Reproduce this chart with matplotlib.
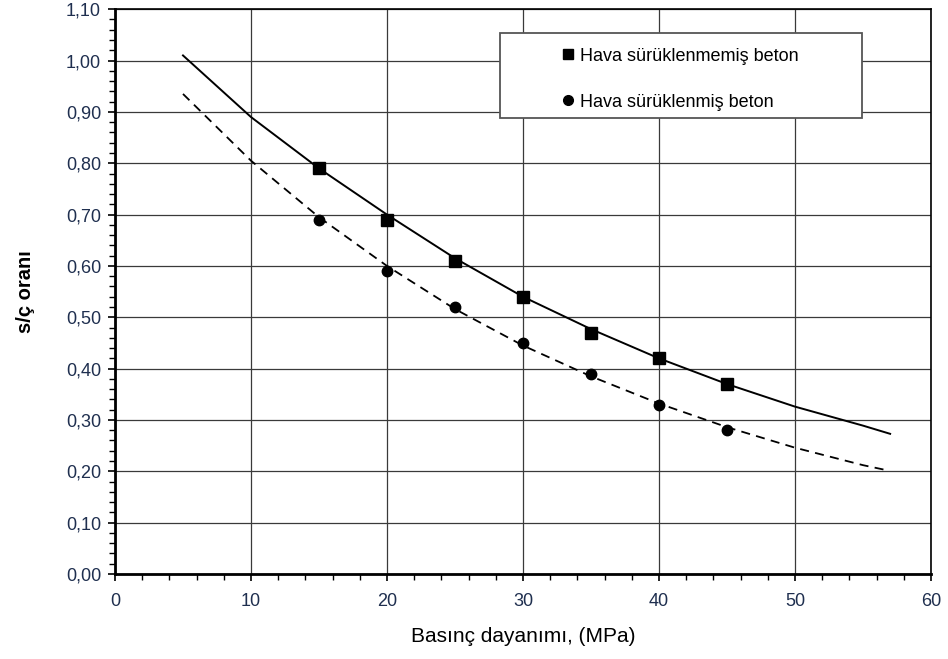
import matplotlib
matplotlib.use('Agg')
import matplotlib.pyplot as plt
from matplotlib.lines import Line2D
from matplotlib.patches import Rectangle
from matplotlib.ticker import MultipleLocator, FuncFormatter

# --- measured points ---
strength = [15, 20, 25, 30, 35, 40, 45]
ratio_plain = [0.79, 0.69, 0.61, 0.54, 0.47, 0.42, 0.37]
ratio_air = [0.69, 0.59, 0.52, 0.45, 0.39, 0.33, 0.28]

# --- trend curves ---
trend_x_plain = [5, 10, 15, 20, 25, 30, 35, 40, 45, 50, 55, 57]
trend_y_plain = [1.01, 0.89, 0.79, 0.70, 0.615, 0.54, 0.477, 0.42, 0.37, 0.326, 0.289, 0.273]
trend_x_air = [5, 10, 15, 20, 25, 30, 35, 40, 45, 50, 55, 56.6]
trend_y_air = [0.935, 0.805, 0.695, 0.60, 0.516, 0.445, 0.385, 0.332, 0.286, 0.246, 0.212, 0.203]

label_plain = 'Hava sürüklenmemiş beton'
label_air = 'Hava sürüklenmiş beton'

TICK_COL = '#1f2f4f'

plt.rcParams['font.family'] = ['Liberation Sans', 'DejaVu Sans']

fig = plt.figure(figsize=(9.48, 6.59), dpi=100)
ax = fig.add_axes([0.1213, 0.129, 0.8607, 0.857])

ax.plot(trend_x_plain, trend_y_plain, color='black', lw=1.4, zorder=3)
ax.plot(trend_x_air, trend_y_air, color='black', lw=1.3, ls=(0, (5, 3.5)), zorder=3)
ax.plot(strength, ratio_plain, ls='none', marker='s', ms=8, color='black', zorder=4)
ax.plot(strength, ratio_air, ls='none', marker='o', ms=7.5, color='black', zorder=4)

ax.set_xlim(0, 60)
ax.set_ylim(0, 1.10)
ax.xaxis.set_major_locator(MultipleLocator(10))
ax.xaxis.set_minor_locator(MultipleLocator(2))
ax.yaxis.set_major_locator(MultipleLocator(0.10))
ax.yaxis.set_minor_locator(MultipleLocator(0.02))
ax.yaxis.set_major_formatter(FuncFormatter(lambda v, p: f'{v:.2f}'.replace('.', ',')))

ax.grid(which='major', color='#3a3a3a', lw=0.9, zorder=1)
ax.tick_params(which='major', direction='out', length=5, width=1.2,
               labelsize=13, labelcolor=TICK_COL, pad=5)
ax.tick_params(axis='x', which='major', pad=9)
ax.tick_params(which='minor', direction='out', length=4, width=1.0)

for side in ['left', 'bottom']:
    ax.spines[side].set_linewidth(2.0)
for side in ['top', 'right']:
    ax.spines[side].set_linewidth(1.2)

ax.set_xlabel('Basınç dayanımı, (MPa)', fontsize=15, labelpad=12)
ax.set_ylabel('s/ç oranı', fontsize=14.5, fontweight='bold', labelpad=22)

# legend frame (wide box as in the original)
ax.add_patch(Rectangle((0.472, 0.807), 0.4436, 0.1504, transform=ax.transAxes,
                       facecolor='white', edgecolor='#555555', lw=1.3, zorder=5))

handles = [Line2D([], [], ls='none', marker='s', ms=7, color='black'),
           Line2D([], [], ls='none', marker='o', ms=7, color='black')]
leg = ax.legend(handles, [label_plain, label_air], loc='upper left',
                bbox_to_anchor=(0.549, 0.932), frameon=False, fontsize=13,
                handlelength=0.6, handletextpad=0.35, borderpad=0,
                labelspacing=1.6, borderaxespad=0)
leg.set_zorder(6)

fig.savefig('out.png', dpi=100, facecolor='white')
